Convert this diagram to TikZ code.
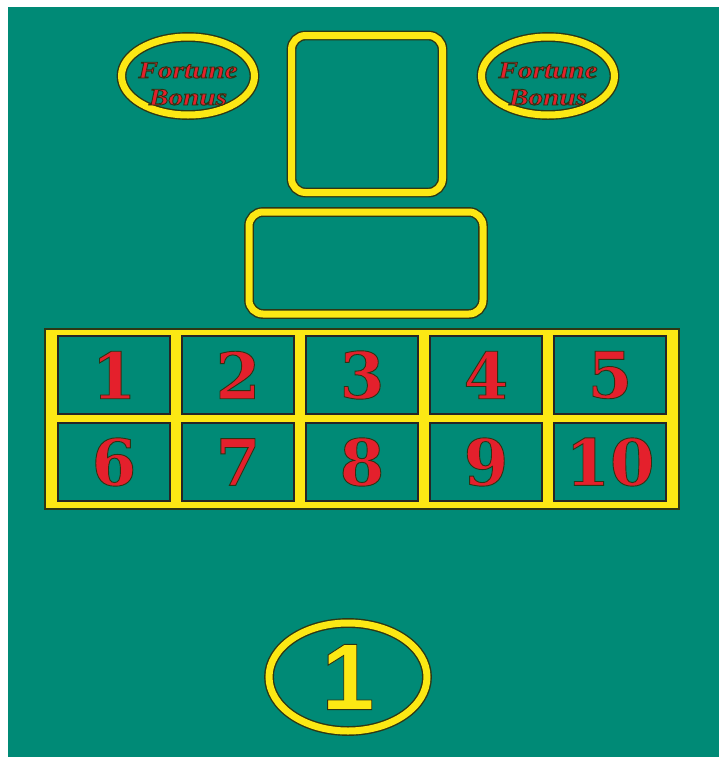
\documentclass[tikz,border=0pt]{standalone}
\usepackage{fontspec}
\setmainfont{Liberation Serif}
\newfontfamily\digitfont{DejaVu Serif}
\newfontfamily\seatfont{Liberation Sans}
\newfontfamily\bonusfont[FakeStretch=1.22]{Liberation Serif}
\usetikzlibrary{shapes.geometric,positioning}
\definecolor{FeltGreen}{RGB}{0,138,118}
\definecolor{RimYellow}{RGB}{252,232,20}
\definecolor{RimDark}{RGB}{45,55,20}
\definecolor{ChipRed}{RGB}{228,32,44}
\makeatletter
\newcommand{\inked}[1]{\pgfsys@invoke{q 2 Tr 0.9 w 0.18 0.2 0.08 RG}#1\pgfsys@invoke{Q}}
\makeatother

\begin{document}
\begin{tikzpicture}[x=1pt,y=-1pt,
    rim/.style={draw=RimDark,line width=1.4pt,double=RimYellow,double distance=7pt,inner sep=0pt},
    cell/.style={draw=black!85,line width=2pt,fill=FeltGreen,minimum width=112pt,minimum height=78pt,inner sep=0pt,
      text=ChipRed,font=\digitfont\bfseries\fontsize{64}{64}\selectfont},
    bonus/.style={text=ChipRed,font=\bonusfont\bfseries\itshape\fontsize{24}{24}\selectfont,inner sep=0pt,anchor=base}]
  \useasboundingbox (0,0) rectangle (719,761);
  \fill[white] (0,0) rectangle (719,761);
  \fill[FeltGreen] (8,7) rectangle (719,757);
  \node[rim,ellipse,minimum width=133pt,minimum height=78pt] (bonusL) at (188,76) {};
  \node[rim,ellipse,minimum width=133pt,minimum height=78pt] (bonusR) at (548,76) {};
  \node[bonus] (bonusLtop) at ([yshift=-2pt]bonusL.center) {\inked{Fortune}};
  \node[bonus] (bonusLbot) at ([yshift=-27pt]bonusLtop.base) {\inked{Bonus}};
  \node[bonus] (bonusRtop) at ([yshift=-2pt]bonusR.center) {\inked{Fortune}};
  \node[bonus] (bonusRbot) at ([yshift=-27pt]bonusRtop.base) {\inked{Bonus}};
  \node[rim,rounded corners=14pt,minimum width=151pt,minimum height=157pt] (cardbox) at (367,114) {};
  \node[rim,rounded corners=14pt,minimum width=234pt,minimum height=102pt] (betbox) at (366,263) {};
  \node[draw=RimDark,line width=2pt,fill=RimYellow,minimum width=634pt,minimum height=180pt] (grid) at (362,419) {};
  \foreach \r in {0,1}{
    \foreach \c [evaluate=\c as \n using {int(\c+1+5*\r)}] in {0,...,4}{
      \node[cell] (cell\n) at (114+124*\c,375+87*\r) {\inked{\n}};
    }
  }
  \node[rim,ellipse,minimum width=158pt,minimum height=108pt] (seat) at (348,677) {};
  \node[text=RimYellow,font=\seatfont\bfseries\fontsize{95}{95}\selectfont] (seatnum) at (seat) {\inked{1}};
\end{tikzpicture}
\end{document}
